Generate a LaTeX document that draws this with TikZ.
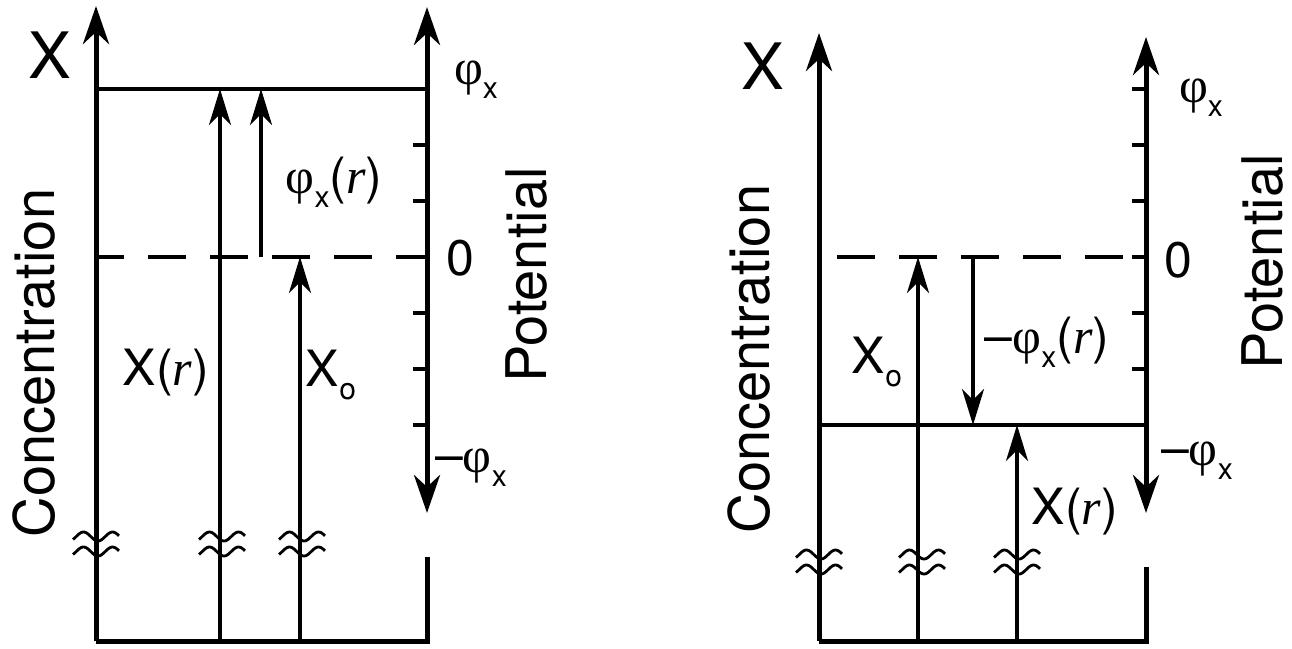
\documentclass[tikz,border=0pt]{standalone}
\usepackage{fontspec}
\setmainfont{TeX Gyre Heros}
\newfontfamily\grk{Liberation Serif}
\usetikzlibrary{arrows.meta, calc}

\newcommand{\phix}{{\grk φ}\raisebox{-0.28em}{\fontsize{30}{32}\selectfont x}}
\newcommand{\rr}{{\grk\itshape r}}
% two wavy strokes across a line
\newcommand{\axisbreak}[1]{%
  \foreach \dy in {-7.5,7.5}
    \draw[line width=2.8pt, shift={(#1)}]
      plot[domain=-23:23, samples=40, smooth] (\x,{\dy+4.5*cos(360*(\x-2)/29)});}

\begin{document}
\begin{tikzpicture}[x=1pt, y=-1pt,
    every node/.style = {inner sep=0pt},
    axis/.style     = {line width=5pt},
    fine/.style     = {line width=3.4pt},
    dashline/.style = {fine, dash pattern=on 38pt off 24pt},
    axarrow/.style  = {axis, -{Stealth[length=38pt, width=26pt, inset=12pt]}},
    potaxis/.style  = {axis, {Stealth[length=38pt, width=26pt, inset=12pt]}-{Stealth[length=38pt, width=26pt, inset=12pt]}},
    finearrow/.style = {fine, -{Stealth[length=36pt, width=22pt, inset=11pt]}},
    lab/.style   = {font=\fontsize{50}{56}\selectfont},
    title/.style = {font=\fontsize{56}{60}\selectfont, rotate=90},
    Xlab/.style  = {font=\fontsize{64}{70}\selectfont},
  ]
\useasboundingbox (0,0) rectangle (1292,648);

%--- left panel
\coordinate (a_bl)   at (96,641);
\coordinate (a_br)   at (427,641);
\coordinate (a_top)  at (96,6);
\coordinate (a_ptop) at (427,7);
\coordinate (a_pbot) at (427,513);
\coordinate (a_stub) at (427,557);
\coordinate (a_hil)  at (96,89);
\coordinate (a_hir)  at (427,89);
\coordinate (a_zl)   at (96,257);
\coordinate (a_zr)   at (427,257);
\coordinate (a_xr)   at (220,641);
\coordinate (a_xrt)  at (220,89);
\coordinate (a_ph)   at (261,257);
\coordinate (a_pht)  at (261,89);
\coordinate (a_xo)   at (300,641);
\coordinate (a_xot)  at (300,257);

\foreach \ty in {89,145,...,425}
  \draw[fine] (413,\ty) -- (427,\ty);

\draw[axarrow] (a_bl) -- (a_top);
\draw[potaxis] (a_pbot) -- (a_ptop);
\draw[axis] (a_bl) -- (a_br) -- (a_stub);
\draw[fine] (a_hil) -- (a_hir);
\draw[dashline, dash phase=10pt] (a_zl) -- (a_zr);
\path[finearrow]
        (a_xr) edge (a_xrt)
        (a_ph) edge (a_pht)
        (a_xo) edge (a_xot);

\axisbreak{96,544}
\axisbreak{222,544}
\axisbreak{302,544}

\node[Xlab]  (a_X)    at (50,55)   {X};
\node[title] (a_conc) at (34,363)  {Concentration};
\node[title] (a_pot)  at (526,275) {Potential};
\node[lab]   (a_phi)  at (476,80)  {\phix};
\node[lab]   (a_zero) at (460,258) {0};
\node[lab]   (a_mphi) at (471,468) {–\phix};
\node[lab]   (a_phr)  at (334,182) {\phix(\rr)};
\node[lab]   (a_Xr)   at (166,373) {X(\rr)};
\node[lab]   (a_Xo)   at (331,375) {X\raisebox{-0.25em}{\fontsize{30}{32}\selectfont o}};

%--- right panel
\coordinate (b_bl)   at (819,641);
\coordinate (b_br)   at (1146,641);
\coordinate (b_top)  at (819,33);
\coordinate (b_ptop) at (1146,37);
\coordinate (b_pbot) at (1146,513);
\coordinate (b_stub) at (1146,567);
\coordinate (b_lol)  at (819,425);
\coordinate (b_lor)  at (1146,425);
\coordinate (b_zl)   at (819,257);
\coordinate (b_zr)   at (1146,257);
\coordinate (b_xo)   at (918,641);
\coordinate (b_xot)  at (918,257);
\coordinate (b_ph)   at (973,257);
\coordinate (b_phb)  at (973,425);
\coordinate (b_xr)   at (1017,641);
\coordinate (b_xrt)  at (1017,425);

\foreach \ty in {89,145,...,425}
  \draw[fine] (1132,\ty) -- (1146,\ty);

\draw[axarrow] (b_bl) -- (b_top);
\draw[potaxis] (b_pbot) -- (b_ptop);
\draw[axis] (b_bl) -- (b_br) -- (b_stub);
\draw[fine] (b_lol) -- (b_lor);
\draw[dashline, dash phase=44pt] (b_zl) -- (b_zr);
\path[finearrow]
        (b_xo) edge (b_xot)
        (b_ph) edge (b_phb)
        (b_xr) edge (b_xrt);

\axisbreak{819,562}
\axisbreak{922,562}
\axisbreak{1017,562}

\node[Xlab]  (b_X)    at (763,66)   {X};
\node[title] (b_conc) at (749,359)  {Concentration};
\node[title] (b_pot)  at (1262,262) {Potential};
\node[lab]   (b_phi)  at (1201,98)  {\phix};
\node[lab]   (b_zero) at (1178,260) {0};
\node[lab]   (b_mphi) at (1197,461) {–\phix};
\node[lab]   (b_phr)  at (1047,342) {–\phix(\rr)};
\node[lab]   (b_Xo)   at (877,362)  {X\raisebox{-0.25em}{\fontsize{30}{32}\selectfont o}};
\node[lab]   (b_Xr)   at (1075,512) {X(\rr)};
\end{tikzpicture}
\end{document}
